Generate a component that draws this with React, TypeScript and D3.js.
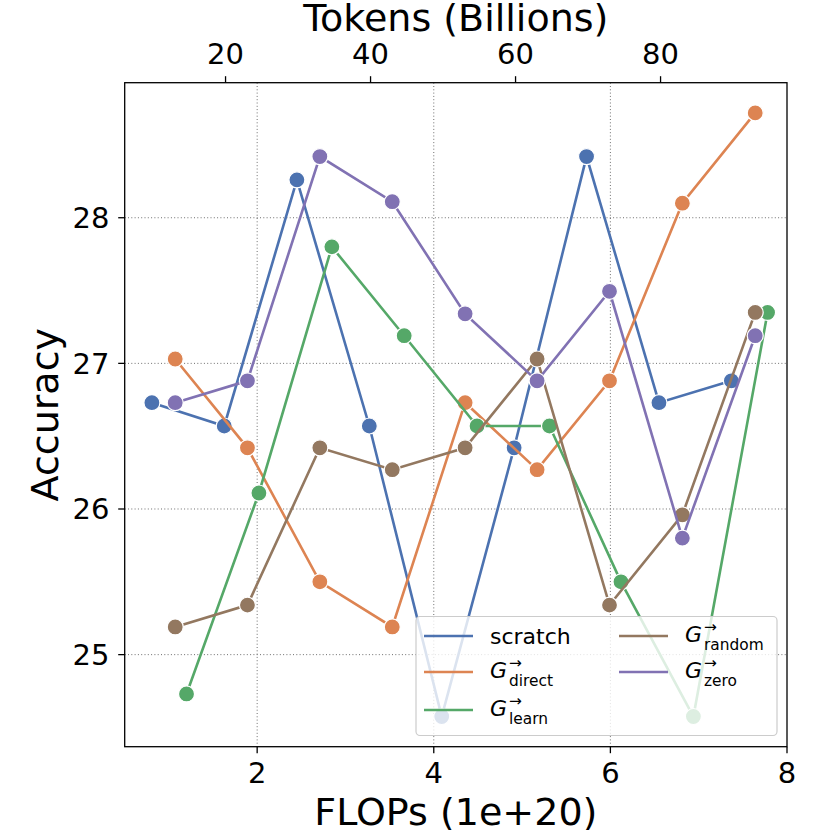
import * as d3 from "d3";

// FLOPs (1e+20) at which each run was evaluated
const flopsScratch = [0.808, 1.627, 2.45, 3.27, 4.09, 4.91, 5.73, 6.55, 7.37];
const flopsGrown = [1.072, 1.89, 2.71, 3.53, 4.355, 5.17, 5.99, 6.815, 7.64];
const flopsLearn = [1.2, 2.02, 2.846, 3.665, 4.49, 5.31, 6.12, 6.94, 7.78];

// accuracy per method
const accScratch = [26.73, 26.57, 28.26, 26.57, 24.575, 26.42, 28.42, 26.73, 26.88];
const accDirect = [27.03, 26.42, 25.5, 25.19, 26.73, 26.27, 26.88, 28.1, 28.72];
const accLearn = [24.73, 26.11, 27.8, 27.19, 26.57, 26.57, 25.5, 24.575, 27.35];
const accRandom = [25.19, 25.34, 26.42, 26.27, 26.42, 27.03, 25.34, 25.96, 27.35];
const accZero = [26.73, 26.88, 28.42, 28.11, 27.34, 26.88, 27.495, 25.8, 27.19];

const xTicks = [2, 4, 6, 8];
const yTicks = [25, 26, 27, 28];
const topTicks = [20, 40, 60, 80];
const tokensPerFlop = 12.18; // billions of tokens per 1e20 FLOPs

type Series = { name: string; sub: string | null; color: string; xs: number[]; ys: number[] };

const series: Series[] = [
  { name: "scratch", sub: null, color: "#4c72b0", xs: flopsScratch, ys: accScratch },
  { name: "direct", sub: "direct", color: "#dd8452", xs: flopsGrown, ys: accDirect },
  { name: "learn", sub: "learn", color: "#55a868", xs: flopsLearn, ys: accLearn },
  { name: "random", sub: "random", color: "#937860", xs: flopsGrown, ys: accRandom },
  { name: "zero", sub: "zero", color: "#8172b3", xs: flopsGrown, ys: accZero },
];

const W = 830;
const H = 830;
const m = { left: 124.7, right: 787, top: 82.7, bottom: 746.7 };
const font = "DejaVu Sans, sans-serif";

export default function App() {
  const x = d3.scaleLinear().domain([0.5, 8]).range([m.left, m.right]);
  const xTop = d3
    .scaleLinear()
    .domain([0.5 * tokensPerFlop, 8 * tokensPerFlop])
    .range([m.left, m.right]);
  const allY = series.flatMap((s) => s.ys);
  const yMin = d3.min(allY)!;
  const yMax = d3.max(allY)!;
  const pad = (yMax - yMin) * 0.05;
  const y = d3.scaleLinear().domain([yMin - pad, yMax + pad]).range([m.bottom, m.top]);

  const line = d3
    .line<[number, number]>()
    .x((d) => x(d[0]))
    .y((d) => y(d[1]));

  // legend layout
  const lg = { x: 416, y: 616.5, w: 361, h: 119 };
  const rowsY = [636, 672, 710];
  const cols = [{ hx: 424, tx: 490 }, { hx: 619, tx: 685 }];

  return (
    <svg
      width={W}
      height={H}
      style={{ position: "absolute", left: 0, top: 0, background: "#fff" }}
      fontFamily={font}
    >
      {/* grid */}
      <g stroke="#6e6e6e" strokeWidth={1} strokeDasharray="1,2.3">
        {xTicks.filter((t) => t < 8).map((t) => (
          <line key={"gx" + t} x1={x(t)} x2={x(t)} y1={m.top} y2={m.bottom} />
        ))}
        {yTicks.map((t) => (
          <line key={"gy" + t} x1={m.left} x2={m.right} y1={y(t)} y2={y(t)} />
        ))}
      </g>

      {/* series */}
      {series.map((s) => {
        const pts = s.xs.map((v, i) => [v, s.ys[i]] as [number, number]);
        return (
          <g key={s.name}>
            <path d={line(pts)!} fill="none" stroke={s.color} strokeWidth={2.6} />
            {pts.map((p, i) => (
              <circle key={i} cx={x(p[0])} cy={y(p[1])} r={8} fill={s.color} stroke="#fff" strokeWidth={1.2} />
            ))}
          </g>
        );
      })}

      {/* legend */}
      <rect x={lg.x} y={lg.y} width={lg.w} height={lg.h} rx={4} fill="#fff" fillOpacity={0.8} stroke="#cccccc" strokeWidth={1.2} />
      {series.map((s, i) => {
        const col = cols[i < 3 ? 0 : 1];
        const ry = rowsY[i < 3 ? i : i - 3];
        return (
          <g key={"lg" + s.name}>
            <line x1={col.hx} x2={col.hx + 49} y1={ry} y2={ry} stroke={s.color} strokeWidth={2.6} />
            {s.sub === null ? (
              <text x={col.tx} y={ry + 8} fontSize={22}>{s.name}</text>
            ) : (
              <g>
                <text x={col.tx} y={ry + 6} fontSize={22} fontStyle="italic">G</text>
                <text x={col.tx + 19} y={ry - 4.4} fontSize={15.4}>→</text>
                <text x={col.tx + 19} y={ry + 13.5} fontSize={15.4}>{s.sub}</text>
              </g>
            )}
          </g>
        );
      })}

      {/* spines */}
      <rect x={m.left} y={m.top} width={m.right - m.left} height={m.bottom - m.top} fill="none" stroke="#000" strokeWidth={1.3} />

      {/* bottom axis */}
      {xTicks.map((t) => (
        <g key={"xt" + t}>
          <line x1={x(t)} x2={x(t)} y1={m.bottom} y2={m.bottom + 6.5} stroke="#000" strokeWidth={1.3} />
          <text x={x(t)} y={783} fontSize={29} textAnchor="middle">{t}</text>
        </g>
      ))}
      {/* left axis */}
      {yTicks.map((t) => (
        <g key={"yt" + t}>
          <line x1={m.left - 6.5} x2={m.left} y1={y(t)} y2={y(t)} stroke="#000" strokeWidth={1.3} />
          <text x={109.5} y={y(t)} dy="0.36em" fontSize={29} textAnchor="end">{t}</text>
        </g>
      ))}
      {/* top axis */}
      {topTicks.map((t) => (
        <g key={"tt" + t}>
          <line x1={xTop(t)} x2={xTop(t)} y1={m.top - 6.5} y2={m.top} stroke="#000" strokeWidth={1.3} />
          <text x={xTop(t)} y={63.5} fontSize={29} textAnchor="middle">{t}</text>
        </g>
      ))}

      {/* axis titles */}
      <text x={(m.left + m.right) / 2} y={825} fontSize={38} textAnchor="middle">FLOPs (1e+20)</text>
      <text x={(m.left + m.right) / 2} y={31} fontSize={38} textAnchor="middle">Tokens (Billions)</text>
      <text
        transform={`translate(58, ${(m.top + m.bottom) / 2}) rotate(-90)`}
        fontSize={38}
        textAnchor="middle"
      >
        Accuracy
      </text>
    </svg>
  );
}
